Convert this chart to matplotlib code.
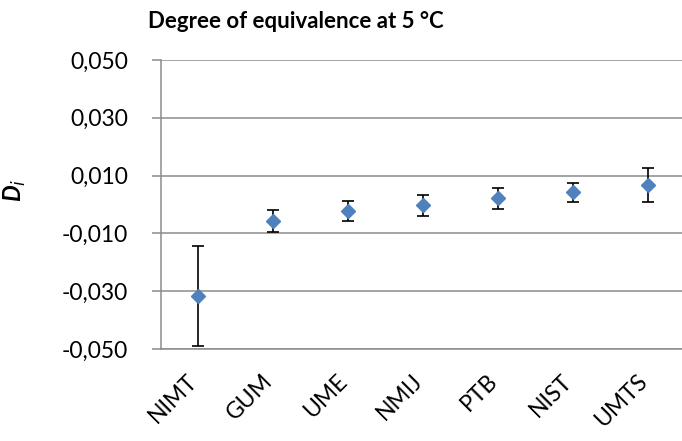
import numpy as np
import matplotlib.pyplot as plt
from matplotlib.ticker import FuncFormatter

# Degree of equivalence at 5 °C
labs = ['NIMT', 'GUM', 'UME', 'NMIJ', 'PTB', 'NIST', 'UMTS']
di = [-0.0317, -0.0058, -0.0022, -0.0003, 0.0021, 0.0042, 0.0067]
ui = [0.0173, 0.0038, 0.0034, 0.0037, 0.0036, 0.0034, 0.0058]
yticks = [-0.05, -0.03, -0.01, 0.01, 0.03, 0.05]

plt.rcParams['font.family'] = ['Lato', 'DejaVu Sans']

fig = plt.figure(figsize=(6.82, 4.41), dpi=100)
ax = fig.add_axes([161 / 682, 92 / 441, 1 - 161 / 682, 289 / 441])

x = np.arange(len(labs))
ax.errorbar(x, di, yerr=ui, fmt='D', color='#4F81BD', ms=7, mec='#4F81BD',
            ecolor='black', elinewidth=1.2, capsize=4.3, capthick=1.2, zorder=3)

grey = '#8C8C8C'
ax.set_ylim(-0.05, 0.05)
ax.set_xlim(-0.5, 6.45)
ax.set_yticks(yticks)
ax.yaxis.set_major_formatter(FuncFormatter(lambda v, p: f'{v:.3f}'.replace('.', ',')))
ax.set_xticks(x)
ax.set_xticklabels(labs, rotation=45, ha='right', va='baseline', rotation_mode='anchor')
ax.grid(axis='y', color=grey, lw=1.1)
ax.set_axisbelow(True)
ax.tick_params(axis='y', direction='out', length=6.5, color=grey, width=1.1,
               labelsize=16.5, pad=17)
ax.tick_params(axis='x', length=0, labelsize=16.5, pad=24)
for s in ['top', 'right']:
    ax.spines[s].set_visible(False)
for s in ['left', 'bottom']:
    ax.spines[s].set_color(grey)
    ax.spines[s].set_linewidth(1.1)

ax.set_ylabel('D$_i$', fontsize=17, fontweight='bold', fontstyle='italic')
ax.yaxis.set_label_coords(-0.255, 0.55)
fig.text(296 / 682, 1 - 22 / 441, 'Degree of equivalence at 5 °C', ha='center',
         va='center', fontsize=16, fontweight='bold')

fig.savefig('out.png', dpi=100)
